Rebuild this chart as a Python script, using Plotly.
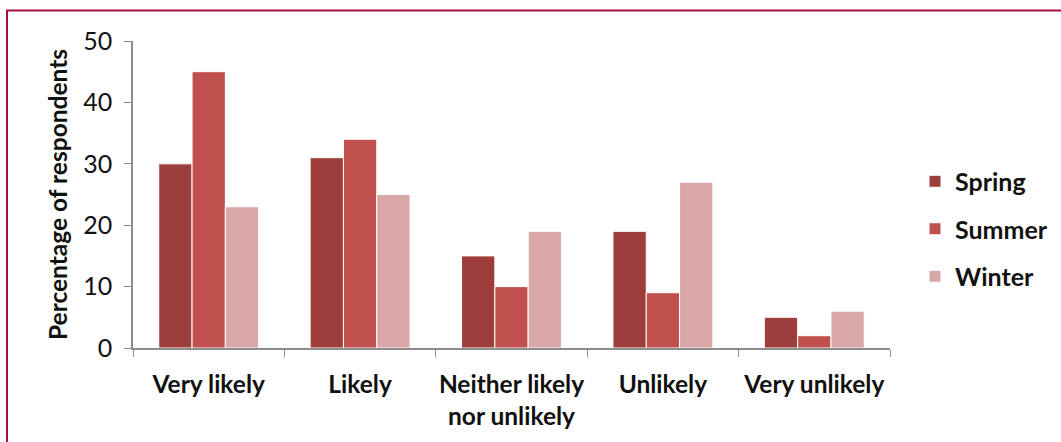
import plotly.graph_objects as go

categories = ["Very likely", "Likely", "Neither likely<br>nor unlikely", "Unlikely", "Very unlikely"]
spring = [30, 31, 15, 19, 5]
summer = [45, 34, 10, 9, 2]
winter = [23, 25, 19, 27, 6]

series = [
    ("Spring", spring, "#9D3E3D"),
    ("Summer", summer, "#C0504D"),
    ("Winter", winter, "#D9A7A6"),
]

fig = go.Figure()
for i, (name, vals, color) in enumerate(series):
    fig.add_trace(go.Bar(
        x=categories, y=vals, name=name,
        marker=dict(color=color, line=dict(color="white", width=1)),
        legendgroup=f"g{i}",
    ))

W, H = 1061, 442
L, R, T, B = 133, 171, 41, 94
pw, ph = W - L - R, H - T - B

def px_x(p):
    return (p - L) / pw

def px_y(p):
    return (H - B - p) / ph

font_family = "Lato, 'Open Sans', sans-serif"

fig.update_layout(
    width=W, height=H,
    margin=dict(l=L, r=R, t=T, b=B, autoexpand=False),
    paper_bgcolor="white", plot_bgcolor="white",
    barmode="group", bargap=0.34, bargroupgap=0,
    font=dict(family=font_family, color="#111111"),
    showlegend=True,
    legend=dict(
        x=px_x(915), xanchor="left",
        y=px_y(229), yanchor="middle",
        font=dict(size=25, family=font_family, color="#111111", weight="bold"),
        traceorder="grouped", tracegroupgap=12,
        bgcolor="rgba(0,0,0,0)",
    ),
    shapes=[dict(
        type="rect", xref="paper", yref="paper",
        x0=px_x(7), x1=px_x(1075), y0=px_y(460), y1=px_y(10.5),
        line=dict(color="#A8103E", width=2), fillcolor="rgba(0,0,0,0)",
        layer="below",
    )],
)

fig.update_xaxes(
    showline=True, linecolor="#8C8C8C", linewidth=1.5,
    ticks="outside", tickson="boundaries", ticklen=7, tickcolor="#8C8C8C",
    tickfont=dict(size=24.5, family=font_family, color="#111111", weight="bold"),
    tickangle=0, automargin=False,
    ticklabelstandoff=14,
    showgrid=False, zeroline=False,
)
fig.update_yaxes(
    range=[0, 50], dtick=10,
    showline=True, linecolor="#8C8C8C", linewidth=1.5,
    ticks="outside", ticklen=7, tickcolor="#8C8C8C",
    tickfont=dict(size=25, family=font_family, color="#111111"),
    ticklabelstandoff=7, automargin=False,
    showgrid=False, zeroline=False,
    title=dict(text="Percentage of respondents", standoff=9,
               font=dict(size=24.5, family=font_family, color="#111111", weight="bold")),
)

fig.write_html("out.html")
